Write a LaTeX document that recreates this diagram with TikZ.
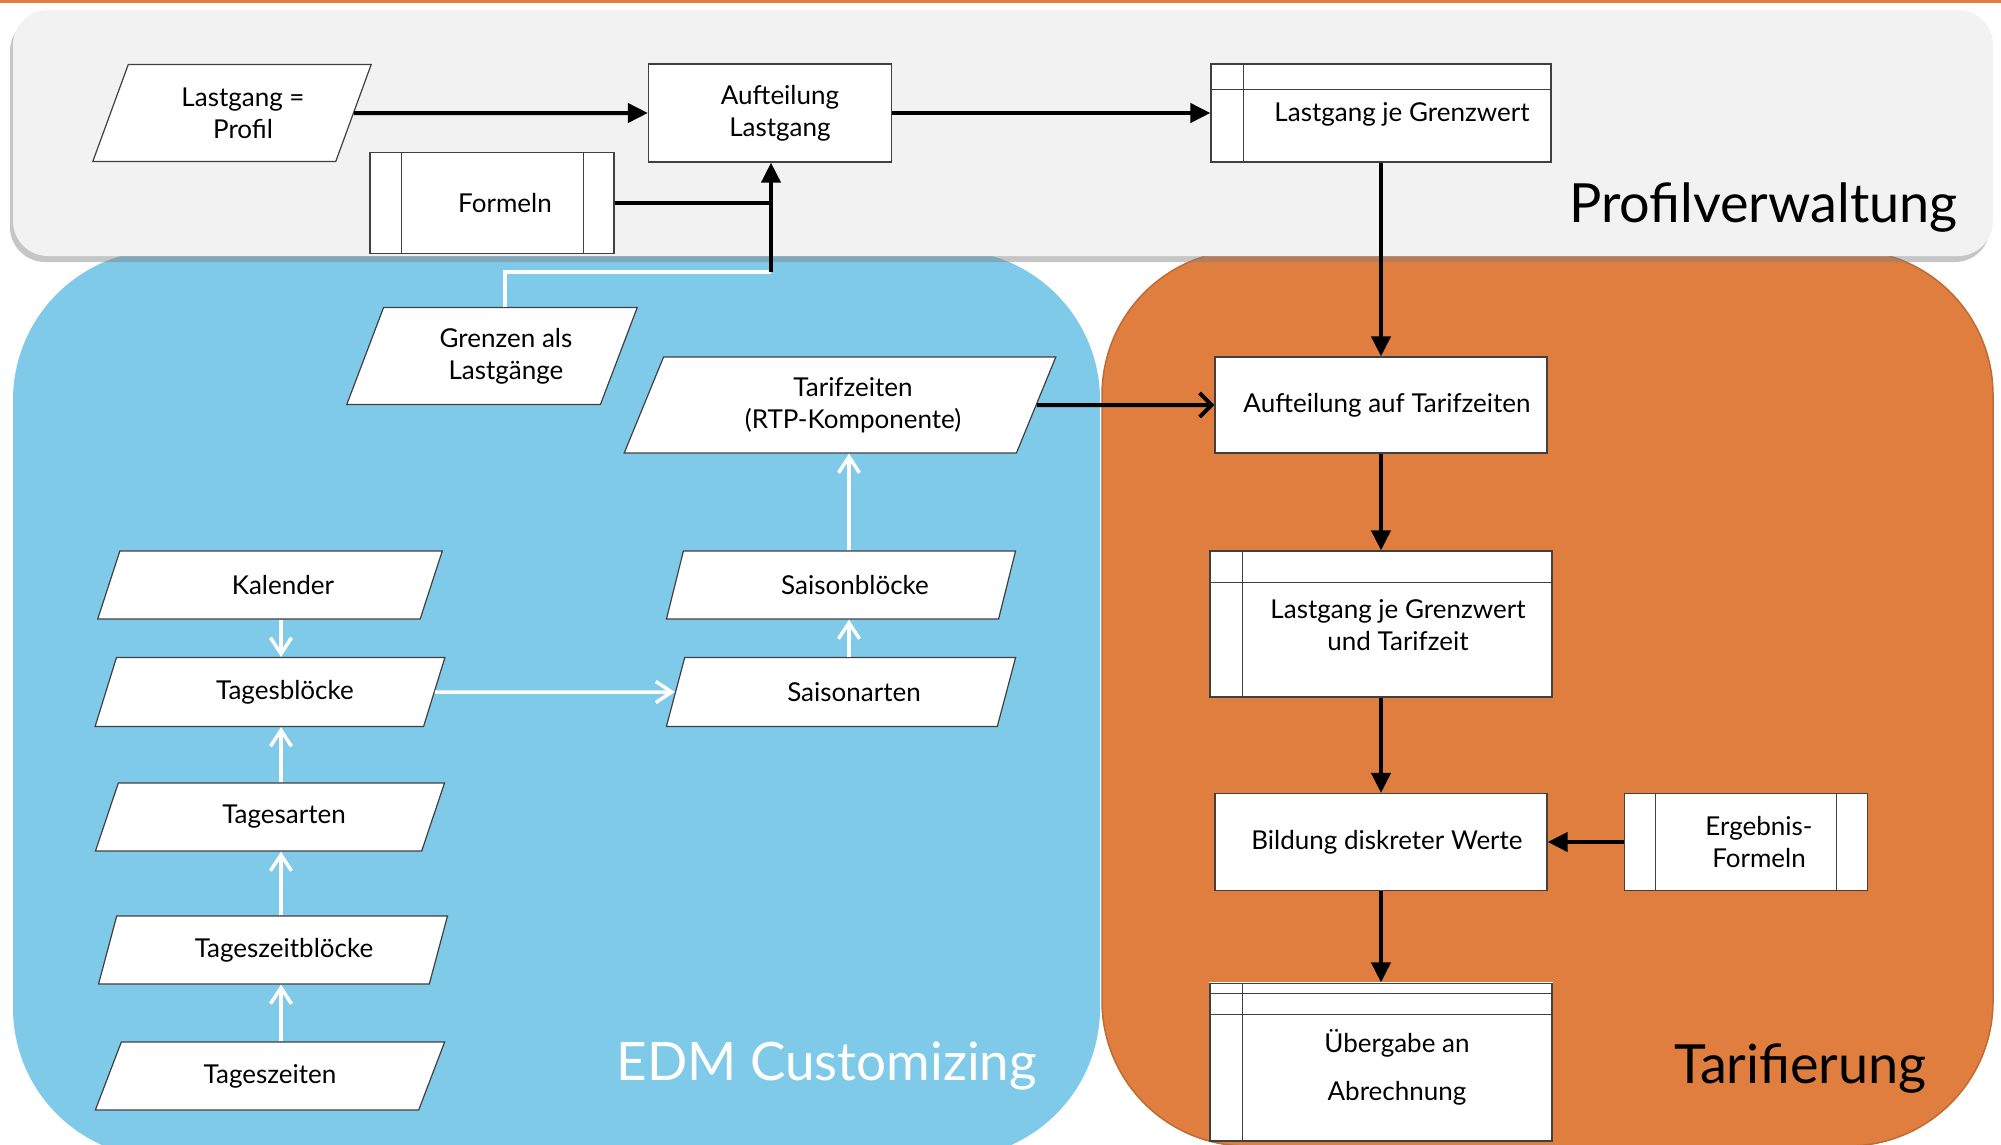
\documentclass[tikz,border=0pt]{standalone}
\usepackage{fontspec}
\setmainfont{Lato}
\usepackage{xcolor}
\usetikzlibrary{shapes.geometric, arrows.meta, positioning, calc, shadows}

\definecolor{pvgrey}{RGB}{242,242,242}
\definecolor{edmblue}{RGB}{127,202,233}
\definecolor{taror}{RGB}{223,126,62}
\definecolor{rim}{RGB}{64,64,64}

\newcommand{\tsh}[1][26pt]{\hspace*{#1}}

\tikzset{
  txt/.style={font=\fontsize{26}{32}\selectfont, align=center, inner sep=0pt},
  proc/.style={txt, rectangle, draw=rim, line width=1.2pt, fill=white},
  para/.style={proc, trapezium, trapezium left angle=64, trapezium right angle=116, trapezium stretches=true},
  store/.style={proc, path picture={
      \draw[rim, line width=0.8pt] ([xshift=32pt]path picture bounding box.north west) -- ([xshift=32pt]path picture bounding box.south west);
      \draw[rim, line width=0.8pt] ([yshift=-#1]path picture bounding box.north west) -- ([yshift=-#1]path picture bounding box.north east);}},
  predef/.style={proc, path picture={
      \draw[rim, line width=0.8pt] ([xshift=31pt]path picture bounding box.north west) -- ([xshift=31pt]path picture bounding box.south west);
      \draw[rim, line width=0.8pt] ([xshift=-31pt]path picture bounding box.north east) -- ([xshift=-31pt]path picture bounding box.south east);}},
  bigarrow/.style={line width=4pt, -{Triangle[length=20pt,width=19pt]}},
  chevarrow/.style={line width=4pt, -{Straight Barb[length=12pt,width=24pt]}},
  warrow/.style={white, line width=3.5pt, -{Straight Barb[length=16pt,width=21pt]}},
  bigtitle/.style={font=\fontsize{54}{62}\selectfont, inner sep=0pt, anchor=base east}
}

\begin{document}
\begin{tikzpicture}[x=1pt, y=-1pt]
\useasboundingbox (0,0) rectangle (2001,1144);
\fill[edmblue, rounded corners=150pt] (13,250) rectangle (1100,1158);
\fill[taror, draw=taror!85!black, line width=1.5pt, rounded corners=145pt] (1102,250) rectangle (1993,1146);
\fill[pvgrey, rounded corners=35pt, drop shadow={shadow xshift=-3pt, shadow yshift=-6pt, opacity=0.45}] (13,10) rectangle (1993,256);
\draw[taror, line width=3pt] (0,1) -- (2001,1);

\node[bigtitle] (pvtitle) at (1958,222) {Profilverwaltung};
\node[bigtitle, white, font=\fontsize{53}{61}\selectfont] (edmtitle) at (1037,1080) {EDM Customizing};
\node[bigtitle] (tartitle) at (1927,1083) {Tarifierung};

\node[para, minimum width=279pt, minimum height=97pt] (prof) at (232,113) {\tsh[22pt]Lastgang =\\\tsh[22pt]Profil};
\node[proc, minimum width=243pt, minimum height=98pt] (auflg) at (770,113) {\tsh[20pt]Aufteilung\\\tsh[20pt]Lastgang};
\node[predef, minimum width=244pt, minimum height=101pt] (formeln) at (492,203) {\tsh Formeln};
\node[store=25pt, minimum width=340pt, minimum height=98pt] (ljg) at (1381,113) {};
\node[txt] (ljgtxt) at (1402,114) {Lastgang je Grenzwert};

\node[para, minimum width=291pt, minimum height=97pt] (grenzen) at (492,356) {\tsh[28pt]Grenzen als\\\tsh[28pt]Lastgänge};
\node[para, minimum width=432pt, minimum height=96pt] (tarif) at (840,405) {\tsh Tarifzeiten\\\tsh(RTP-Komponente)};
\node[para, minimum width=345pt, minimum height=68pt] (kal) at (270,585) {\tsh Kalender};
\node[para, minimum width=350pt, minimum height=69pt] (tbl) at (270,692) {\tsh[30pt]Tagesblöcke};
\node[para, minimum width=350pt, minimum height=68pt] (tart) at (270,817) {\tsh[28pt]Tagesarten};
\node[para, minimum width=350pt, minimum height=68pt] (tzb) at (273,950) {\tsh[22pt]Tageszeitblöcke};
\node[para, minimum width=350pt, minimum height=68pt] (tz) at (270,1076) {Tageszeiten};
\node[para, minimum width=350pt, minimum height=68pt] (sbl) at (841,585) {\tsh[28pt]Saisonblöcke};
\node[para, minimum width=350pt, minimum height=69pt] (sart) at (841,692) {\tsh Saisonarten};

\node[proc, minimum width=332pt, minimum height=96pt] (aat) at (1381,405) {\tsh[12pt]Aufteilung auf Tarifzeiten};
\node[store=31pt, minimum width=342pt, minimum height=146pt] (ljgt) at (1381,624) {};
\node[txt] (ljgttxt) at (1398,625) {Lastgang je Grenzwert\\und Tarifzeit};
\node[proc, minimum width=332pt, minimum height=97pt] (bdw) at (1381,842) {\tsh[12pt]Bildung diskreter Werte};
\node[predef, minimum width=243pt, minimum height=97pt] (ergf) at (1746,842) {\tsh Ergebnis-\\\tsh Formeln};
\node[store=10pt, minimum width=342pt, minimum height=158pt] (ueb) at (1381,1062) {};
\draw[rim, line width=0.8pt] ([yshift=-32pt]ueb.north west) -- ([yshift=-32pt]ueb.north east);
\draw[white, line width=1.6pt] (ueb.north west) -- (ueb.north east);
\node[txt] (uebtxt) at (1397,1067) {Übergabe an\\[16pt]Abrechnung};

\coordinate (lcol) at (281,0);
\coordinate (rcol) at (849,0);
\coordinate (gk) at (771,272);

\draw[bigarrow] (prof.east) -- (auflg.west);
\draw[bigarrow] (auflg.east) -- (ljg.west);
\draw[line width=4pt] (formeln.east) -- (formeln.east -| gk);
\draw[white, line width=3.5pt] ([xshift=13pt]grenzen.north) |- (gk);
\draw[bigarrow] (gk) -- (gk |- auflg.south);
\draw[bigarrow] (ljg.south) -- (aat.north);
\draw[chevarrow] (tarif.east) -- (aat.west);
\draw[bigarrow] (aat.south) -- (ljgt.north);
\draw[bigarrow] (ljgt.south) -- (bdw.north);
\draw[bigarrow] (ergf.west) -- (bdw.east);
\draw[bigarrow] (bdw.south) -- (ueb.north);

\draw[warrow] (lcol |- kal.south) -- (lcol |- tbl.north);
\draw[warrow] (lcol |- tart.north) -- (lcol |- tbl.south);
\draw[warrow] (lcol |- tzb.north) -- (lcol |- tart.south);
\draw[warrow] (lcol |- tz.north) -- (lcol |- tzb.south);
\draw[warrow] (tbl.east) -- (sart.west);
\draw[warrow] (rcol |- sart.north) -- (rcol |- sbl.south);
\draw[warrow] (rcol |- sbl.north) -- (rcol |- tarif.south);
\end{tikzpicture}
\end{document}
